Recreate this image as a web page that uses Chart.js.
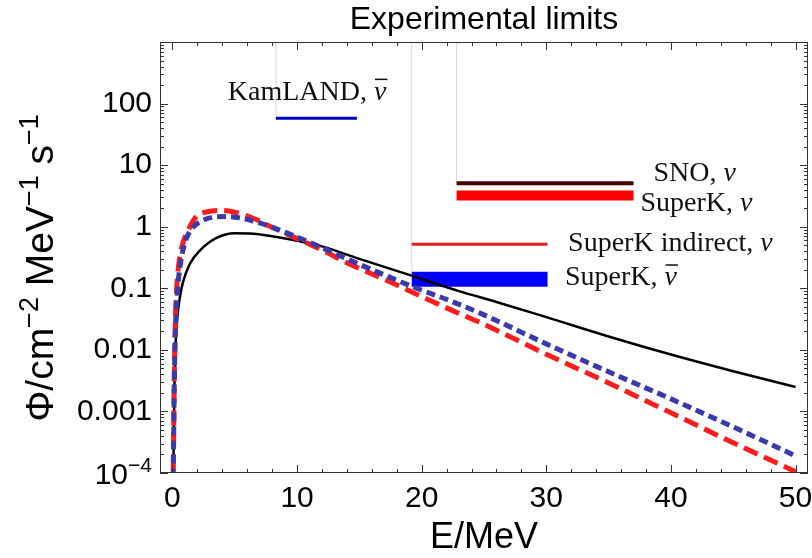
<!DOCTYPE html>
<html>
<head>
<meta charset="utf-8">
<title>Experimental limits</title>
<script src="https://cdn.jsdelivr.net/npm/chart.js@4.4.1/dist/chart.umd.min.js"></script>
<style>
    html, body { margin: 0; padding: 0; background: #fff; }
    #wrap { width: 812px; height: 558px; }
</style>
</head>
<body>
<div id="wrap"><canvas id="fluxChart" width="812" height="558"></canvas></div>
<script>
// --- Spectra (E in MeV, flux in cm^-2 MeV^-1 s^-1) ---
const blackE    = [0.05, 0.15, 0.25, 0.4, 0.6, 0.85, 1.4, 2.2, 3.5, 5, 6.5, 8, 10, 12, 15, 19, 23, 26, 30, 35, 40, 45, 50];
const blackFlux = [5e-5, 0.002, 0.012, 0.035, 0.072, 0.127, 0.25, 0.41, 0.65, 0.78, 0.77, 0.70, 0.59, 0.48, 0.30, 0.165, 0.09, 0.06, 0.034, 0.0165, 0.0084, 0.0045, 0.0025];

const redE    = [0.05, 0.15, 0.25, 0.4, 0.6, 0.85, 1.25, 1.9, 2.8, 3.9, 5, 6.2, 8, 10, 12, 14, 17, 19.6, 22.3, 25, 30, 35, 40, 45, 50];
const redFlux = [5e-5, 0.004, 0.04, 0.15, 0.33, 0.55, 0.87, 1.45, 1.75, 1.84, 1.72, 1.45, 0.98, 0.64, 0.42, 0.26, 0.14, 0.08, 0.045, 0.026, 0.0085, 0.0029, 9.5e-4, 3.1e-4, 1.05e-4];

const blueE    = [0.05, 0.15, 0.25, 0.4, 0.6, 1.0, 1.5, 2.2, 3.2, 4.3, 5.5, 7, 9, 11, 14, 17, 19.6, 22, 25, 30, 35, 40, 45, 50];
const blueFlux = [5e-5, 0.003, 0.025, 0.09, 0.22, 0.55, 0.9, 1.2, 1.42, 1.47, 1.38, 1.15, 0.82, 0.56, 0.30, 0.165, 0.10, 0.066, 0.037, 0.0125, 0.0044, 0.0016, 5.6e-4, 1.9e-4];

// --- Experimental limits (energy window and flux limit) ---
const kamlandE = [8.3, 14.8];   const kamlandFlux = [58, 58];
const snoE = [22.8, 37.0];      const snoFlux = [5.1, 5.1];
const skNuE = [22.8, 37.0];     const skNuFlux = [3.2, 3.2];
const skIndE = [19.2, 30.1];    const skIndFlux = [0.52, 0.52];
const skBarE = [19.2, 30.1];    const skBarFlux = [0.14, 0.14];

// tick labels
const xTicks = [0, 10, 20, 30, 40, 50];
const yTicks = [1e-4, 0.001, 0.01, 0.1, 1, 10, 100];
const yTickLabels = ['', '0.001', '0.01', '0.1', '1', '10', '100']; // 10^-4 is drawn by hand

const yMax = 1000;

const toPoints = (xs, ys) => xs.map((v, i) => ({ x: v, y: ys[i] }));

const curve = (label, xs, ys, color, width, dash) => ({
    label, data: toPoints(xs, ys),
    borderColor: color, borderWidth: width, borderDash: dash,
    pointRadius: 0, cubicInterpolationMode: 'monotone', fill: false
});

const bar = (label, xs, ys, color, width) => ({
    label, data: toPoints(xs, ys),
    borderColor: color, borderWidth: width, borderCapStyle: 'butt',
    pointRadius: 0, fill: false
});

const SANS = "'Liberation Sans', Arial, sans-serif";
const SERIF = "'Liberation Serif', 'Times New Roman', serif";

// label text next to each limit, placed in data coordinates
const limitLabels = [
    { text: 'KamLAND, ', bar: true,  e: 4.44,  flux: 116 },
    { text: 'SNO, ',     bar: false, e: 38.6,  flux: 5.43 },
    { text: 'SuperK, ',  bar: false, e: 37.55, flux: 1.77 },
    { text: 'SuperK indirect, ', bar: false, e: 31.75, flux: 0.398 },
    { text: 'SuperK, ',  bar: true,  e: 31.5,  flux: 0.112 }
];

// text with a raised, smaller part: list of [string, isSuperscript]
const drawRich = (ctx, parts, x, y, size, supSize, supRise, align) => {
    const widths = parts.map(([s, sup]) => {
        ctx.font = (sup ? supSize : size) + 'px ' + SANS;
        return ctx.measureText(s).width;
    });
    const total = widths.reduce((a, b) => a + b, 0);
    let cx = align === 'center' ? x - total / 2 : (align === 'right' ? x - total : x);
    parts.forEach(([s, sup], i) => {
        ctx.font = (sup ? supSize : size) + 'px ' + SANS;
        ctx.fillText(s, cx, sup ? y - supRise : y);
        cx += widths[i];
    });
};

const decorPlugin = {
    id: 'decor',
    afterDatasetsDraw(chart) {
        const { ctx, chartArea: a, scales: { x, y } } = chart;
        ctx.save();
        ctx.strokeStyle = '#333';
        ctx.lineWidth = 1;
        ctx.strokeRect(a.left + 0.5, a.top + 0.5, a.right - a.left - 1, a.bottom - a.top - 1);

        const seg = (x1, y1, x2, y2) => { ctx.beginPath(); ctx.moveTo(x1, y1); ctx.lineTo(x2, y2); ctx.stroke(); };

        // inward ticks on all four sides
        for (let v = 0; v <= 50; v += 2) {
            const px = Math.round(x.getPixelForValue(v)) + 0.5;
            const len = v % 10 === 0 ? 8 : 4;
            seg(px, a.bottom, px, a.bottom - len);
            seg(px, a.top, px, a.top + len);
        }
        for (let p = -4; p < 3; p++) {
            for (let k = 1; k <= 9; k++) {
                const py = Math.round(y.getPixelForValue(k * Math.pow(10, p))) + 0.5;
                const len = k === 1 ? 8 : 4;
                seg(a.left, py, a.left + len, py);
                seg(a.right, py, a.right - len, py);
            }
        }

        // labels for the experimental limits
        ctx.fillStyle = '#111';
        ctx.textBaseline = 'alphabetic';
        ctx.textAlign = 'left';
        limitLabels.forEach(l => {
            const px = x.getPixelForValue(l.e);
            const py = y.getPixelForValue(l.flux);
            ctx.font = '28px ' + SERIF;
            ctx.fillText(l.text, px, py);
            const w = ctx.measureText(l.text).width;
            ctx.font = 'italic 28px ' + SERIF;
            ctx.fillText('\u03BD', px + w, py);
            if (l.bar) {
                const nw = ctx.measureText('\u03BD').width;
                ctx.fillRect(px + w + 1, py - 21, nw, 1.5);
            }
        });
        ctx.restore();
    },
    afterDraw(chart) {
        const { ctx, chartArea: a, scales: { y } } = chart;
        const cx = (a.left + a.right) / 2;
        ctx.save();
        ctx.fillStyle = '#000';
        ctx.textBaseline = 'alphabetic';

        // title
        ctx.textAlign = 'center';
        ctx.font = '32px ' + SANS;
        ctx.fillText('Experimental limits', cx, 29);

        // x axis title
        ctx.font = '36px ' + SANS;
        ctx.fillText('E/MeV', cx, 548);

        // 10^-4 tick label
        ctx.textAlign = 'left';
        const py = y.getPixelForValue(1e-4);
        drawRich(ctx, [['10', false], ['\u22124', true]], a.left - 8, py + 11, 30, 21, 12, 'right');

        // y axis title, rotated
        ctx.translate(53, 268);
        ctx.rotate(-Math.PI / 2);
        drawRich(ctx, [['\u03A6/cm', false], ['\u22122', true], [' MeV', false], ['\u22121', true], [' s', false], ['\u22121', true]],
            0, 0, 39, 27, 15, 'center');
        ctx.restore();
    }
};

document.addEventListener('DOMContentLoaded', () => {
    const canvas = document.getElementById('fluxChart');
    new Chart(canvas.getContext('2d'), {
        type: 'line',
        data: {
            datasets: [
                curve('blue', blueE, blueFlux, '#3a3aaa', 5, [9, 5]),
                curve('red', redE, redFlux, '#ff1c1c', 5, [15, 7]),
                curve('black', blackE, blackFlux, '#000000', 2.5, []),
                bar('KamLAND', kamlandE, kamlandFlux, '#0000c0', 3),
                bar('SNO', snoE, snoFlux, '#4a0000', 4),
                bar('SuperK nu', skNuE, skNuFlux, '#ff0000', 10),
                bar('SuperK indirect', skIndE, skIndFlux, '#e02020', 3),
                bar('SuperK nubar', skBarE, skBarFlux, '#0000ff', 15),
                bar('guide1', [kamlandE[0], kamlandE[0]], [kamlandFlux[0], yMax], '#d6d6d6', 1),
                bar('guide2', [skBarE[0], skBarE[0]], [skBarFlux[0] * 1.3, yMax], '#d6d6d6', 1),
                bar('guide3', [snoE[0], snoE[0]], [snoFlux[0], yMax], '#d6d6d6', 1)
            ]
        },
        options: {
            responsive: false,
            animation: false,
            devicePixelRatio: 1,
            layout: { padding: { top: 42, right: 4, left: 0, bottom: 0 } },
            plugins: { legend: { display: false }, tooltip: { enabled: false }, title: { display: false } },
            scales: {
                x: {
                    type: 'linear', min: -1, max: 51,
                    grid: { display: false, drawTicks: false },
                    border: { display: false },
                    afterBuildTicks: s => { s.ticks = xTicks.map(v => ({ value: v })); },
                    afterFit: s => { s.height = 85; s.paddingLeft = 0; s.paddingRight = 0; },
                    ticks: { font: { family: SANS, size: 30 }, color: '#000', padding: 8, maxRotation: 0,
                             callback: v => String(v) }
                },
                y: {
                    type: 'logarithmic', min: 1e-4, max: yMax,
                    grid: { display: false, drawTicks: false },
                    border: { display: false },
                    afterBuildTicks: s => { s.ticks = yTicks.map(v => ({ value: v })); },
                    afterFit: s => { s.width = 160; s.paddingTop = 0; s.paddingBottom = 0; },
                    ticks: { font: { family: SANS, size: 30 }, color: '#000', padding: 8,
                             callback: v => yTickLabels[yTicks.indexOf(v)] ?? '' }
                }
            }
        },
        plugins: [decorPlugin]
    });
});
</script>
</body>
</html>
